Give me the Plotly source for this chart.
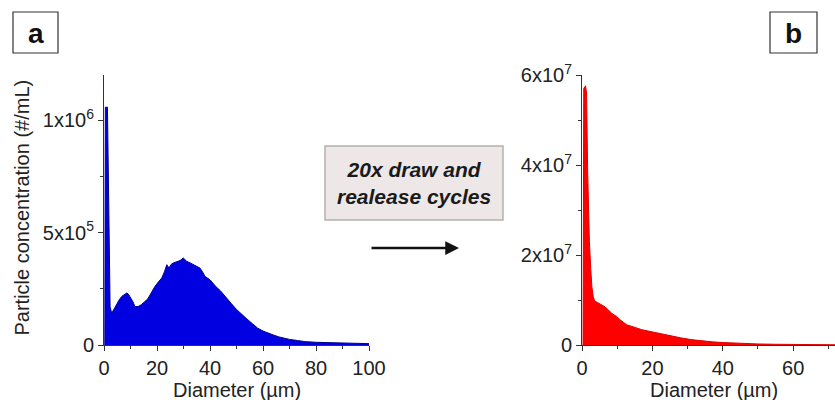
import plotly.graph_objects as go

# Panel a (before) - blue
a_diam = [0.3, 0.5, 1.3, 1.7, 2.0, 2.3, 2.9, 3.8, 4.8, 5.8, 6.7, 7.6, 8.6, 9.2, 9.8, 10.8, 11.7, 12.9,
          14.2, 15.5, 16.5, 17.4, 18.3, 19.2, 20.5, 21.8, 22.8, 23.7, 24.5, 25.3, 26.2, 27.1, 28.0, 29.0,
          29.9, 30.5, 31.2, 32.5, 33.7, 35.0, 36.2, 37.2, 38.1, 40.0, 42.0, 44.0, 46.0, 48.0, 50.0, 52.0,
          54.0, 56.0, 58.0, 60.0, 62.0, 64.0, 66.0, 68.0, 70.0, 73.0, 76.0, 80.0, 85.0, 90.0, 95.0, 100.0]
a_conc = [0, 1.057e6, 1.057e6, 7.0e5, 4.0e5, 1.7e5, 1.41e5, 1.62e5, 1.86e5, 2.02e5, 2.16e5, 2.25e5,
          2.31e5, 2.26e5, 2.16e5, 1.95e5, 1.71e5, 1.71e5, 1.80e5, 1.93e5, 2.05e5, 2.23e5, 2.42e5, 2.6e5,
          2.8e5, 2.98e5, 3.25e5, 3.57e5, 3.42e5, 3.58e5, 3.65e5, 3.68e5, 3.72e5, 3.78e5, 3.87e5, 3.80e5,
          3.72e5, 3.65e5, 3.57e5, 3.50e5, 3.42e5, 3.25e5, 3.05e5, 2.9e5, 2.62e5, 2.4e5, 2.1e5, 1.85e5,
          1.58e5, 1.35e5, 1.15e5, 9.5e4, 7.5e4, 6.2e4, 5.2e4, 4.4e4, 3.6e4, 3.0e4, 2.5e4, 2.0e4, 1.5e4,
          1.2e4, 1.0e4, 8.5e3, 7e3, 6e3]

# Panel b (after 20x draw/release) - red
b_diam = [0.3, 0.5, 1.0, 1.3, 1.6, 1.8, 2.1, 2.5, 2.8, 3.2, 3.6, 4.5, 5.5, 6.5, 7.5, 8.5, 9.9, 11, 12.7,
          14, 15.5, 17, 19.3, 22, 25, 28, 31, 34, 37, 40, 45, 50, 55, 60, 65, 70, 72]
b_conc = [0, 5.7e7, 5.76e7, 5.6e7, 3.9e7, 2.8e7, 2.3e7, 1.67e7, 1.3e7, 1.07e7, 9.8e6, 9.4e6, 9.0e6,
          8.5e6, 7.8e6, 7.0e6, 6.3e6, 5.5e6, 4.5e6, 4.1e6, 3.8e6, 3.4e6, 3.0e6, 2.6e6, 2.1e6, 1.6e6,
          1.2e6, 9e5, 7e5, 5.5e5, 3.5e5, 2.3e5, 1.6e5, 1.1e5, 8e4, 6e4, 5e4]

a_yticks = [0, 5e5, 1e6]
a_yticktext = ["0", "5x10<sup>5</sup>", "1x10<sup>6</sup>"]
a_xticks = [0, 20, 40, 60, 80, 100]
b_yticks = [0, 2e7, 4e7, 6e7]
b_yticktext = ["0", "2x10<sup>7</sup>", "4x10<sup>7</sup>", "6x10<sup>7</sup>"]
b_xticks = [0, 20, 40, 60]

W, H = 835, 400
def px(x):
    return x / W
def py(y):
    return 1 - y / H

FONT = "Liberation Sans, Arial, sans-serif"
TXT = "#222222"

fig = go.Figure()
fig.add_trace(go.Scatter(x=a_diam, y=a_conc, mode="lines", fill="tozeroy",
                         line=dict(color="#00008c", width=1), fillcolor="#0000e0",
                         xaxis="x", yaxis="y", showlegend=False))
fig.add_trace(go.Scatter(x=b_diam, y=b_conc, mode="lines", fill="tozeroy",
                         line=dict(color="#e00000", width=1), fillcolor="#ff0000",
                         xaxis="x2", yaxis="y2", showlegend=False))

axis_common = dict(showline=True, linecolor="#333333", linewidth=1, ticks="outside",
                   ticklen=5, tickwidth=1, tickcolor="#333333", showgrid=False, zeroline=False,
                   automargin=False,
                   tickfont=dict(family=FONT, size=20, color=TXT), fixedrange=True)

ydom = [py(345), py(75)]
fig.update_layout(
    template="none",
    width=W, height=H, margin=dict(l=0, r=0, t=0, b=0, pad=0), autosize=False,
    paper_bgcolor="white", plot_bgcolor="white",
    xaxis=dict(domain=[px(104), px(369)], range=[0, 100], anchor="y",
               tickmode="array", tickvals=a_xticks,
               minor=dict(tickvals=[10, 30, 50, 70, 90], ticks="outside", ticklen=3,
                          tickcolor="#333333"),
               **axis_common),
    yaxis=dict(domain=ydom, range=[0, 1.2e6], anchor="x",
               tickmode="array", tickvals=a_yticks, ticktext=a_yticktext,
               minor=dict(tickvals=[2.5e5, 7.5e5], ticks="outside", ticklen=3,
                          tickcolor="#333333"),
               **axis_common),
    xaxis2=dict(domain=[px(582), 1.0], range=[0, 71.9], anchor="y2",
                tickmode="array", tickvals=b_xticks,
                minor=dict(tickvals=[10, 30, 50, 70], ticks="outside", ticklen=3,
                           tickcolor="#333333"),
                **axis_common),
    yaxis2=dict(domain=ydom, range=[0, 6e7], anchor="x2",
                tickmode="array", tickvals=b_yticks, ticktext=b_yticktext,
                minor=dict(tickvals=[1e7, 3e7, 5e7], ticks="outside", ticklen=3,
                           tickcolor="#333333"),
                **axis_common),
)

shapes = [
    dict(type="rect", xref="paper", yref="paper", x0=px(13), x1=px(58), y0=py(53), y1=py(12),
         line=dict(color="#333333", width=1.2), fillcolor="white"),
    dict(type="rect", xref="paper", yref="paper", x0=px(770), x1=px(817), y0=py(53), y1=py(12),
         line=dict(color="#333333", width=1.2), fillcolor="white"),
    dict(type="rect", xref="paper", yref="paper", x0=px(325), x1=px(503), y0=py(220), y1=py(146),
         line=dict(color="#b5b0b0", width=1.5), fillcolor="#ede7e7"),
]
fig.update_layout(shapes=shapes)

ann = [
    dict(text="<b>a</b>", x=px(35.5), y=py(33), xref="paper", yref="paper", showarrow=False,
         font=dict(family=FONT, size=28, color="#111111"), xanchor="center", yanchor="middle"),
    dict(text="<b>b</b>", x=px(793.5), y=py(33), xref="paper", yref="paper", showarrow=False,
         font=dict(family=FONT, size=28, color="#111111"), xanchor="center", yanchor="middle"),
    dict(text="<b><i>20x draw and<br>realease cycles</i></b>", x=px(414), y=py(183),
         xref="paper", yref="paper", showarrow=False, align="center",
         font=dict(family=FONT, size=21, color="#1a1a1a"), xanchor="center", yanchor="middle"),
    dict(text="", x=px(459), y=py(248), xref="paper", yref="paper", showarrow=True,
         ax=-89, ay=0, axref="pixel", ayref="pixel", arrowhead=2, arrowsize=1.1,
         arrowwidth=2.5, arrowcolor="#111111"),
    dict(text="Diameter (µm)", x=px(237), y=py(390), xref="paper", yref="paper",
         showarrow=False, font=dict(family=FONT, size=20, color=TXT),
         xanchor="center", yanchor="middle"),
    dict(text="Diameter (µm)", x=px(714), y=py(390), xref="paper", yref="paper",
         showarrow=False, font=dict(family=FONT, size=20, color=TXT),
         xanchor="center", yanchor="middle"),
    dict(text="Particle concentration (#/mL)", x=px(21), y=py(207.5), xref="paper",
         yref="paper", showarrow=False, textangle=-90,
         font=dict(family=FONT, size=20, color=TXT), xanchor="center", yanchor="middle"),
]
fig.update_layout(annotations=ann)

fig.write_html("out.html")
